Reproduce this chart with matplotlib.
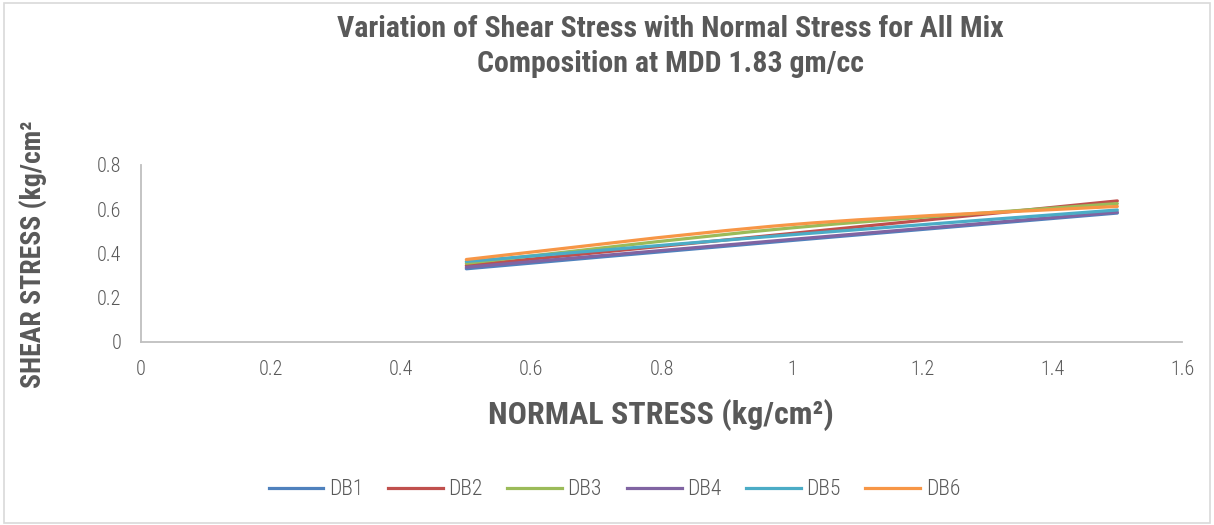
import matplotlib
matplotlib.use("Agg")
import matplotlib.pyplot as plt
from matplotlib.path import Path
from matplotlib.patches import PathPatch, Rectangle
from matplotlib.lines import Line2D

plt.rcParams['font.family'] = ['Roboto Condensed', 'Liberation Sans Narrow', 'Roboto', 'DejaVu Sans']

# datos
normal_stress = [0.5, 1.0, 1.5]
series_names = ['DB1', 'DB2', 'DB3', 'DB4', 'DB5', 'DB6']
db1 = [0.330, 0.458, 0.582]
db2 = [0.345, 0.490, 0.637]
db3 = [0.355, 0.515, 0.625]
db4 = [0.337, 0.463, 0.586]
db5 = [0.363, 0.484, 0.596]
db6 = [0.372, 0.530, 0.612]
series_values = [db1, db2, db3, db4, db5, db6]
colors = ['#4F81BD', '#C0504D', '#9BBB59', '#8064A2', '#4BACC6', '#F79646']

x_ticks = [0, 0.2, 0.4, 0.6, 0.8, 1, 1.2, 1.4, 1.6]
x_tick_labels = ['0', '0.2', '0.4', '0.6', '0.8', '1', '1.2', '1.4', '1.6']
y_ticks = [0, 0.2, 0.4, 0.6, 0.8]
y_tick_labels = ['0', '0.2', '0.4', '0.6', '0.8']

text_color = '#595959'
axis_color = '#BFBFBF'


def smooth_path(xs, ys, t=1 / 6):
    """Curva suavizada estilo Excel (Bezier cubica por los puntos)"""
    pts = list(zip(xs, ys))
    verts = [pts[0]]
    codes = [Path.MOVETO]
    n = len(pts)
    for i in range(n - 1):
        p0 = pts[i - 1] if i > 0 else pts[i]
        p1 = pts[i]
        p2 = pts[i + 1]
        p3 = pts[i + 2] if i + 2 < n else pts[i + 1]
        c1 = (p1[0] + (p2[0] - p0[0]) * t, p1[1] + (p2[1] - p0[1]) * t)
        c2 = (p2[0] - (p3[0] - p1[0]) * t, p2[1] - (p3[1] - p1[1]) * t)
        verts += [c1, c2, p2]
        codes += [Path.CURVE4] * 3
    return Path(verts, codes)


fig = plt.figure(figsize=(12.14, 5.25), dpi=100)
ax = fig.add_axes([0.116, 0.349, 0.858, 0.337])

handles = []
for name, vals, col in zip(series_names, series_values, colors):
    patch = PathPatch(smooth_path(normal_stress, vals), facecolor='none',
                      edgecolor=col, lw=2.3, capstyle='round', zorder=3)
    ax.add_patch(patch)
    handles.append(Line2D([], [], color=col, lw=2.3, label=name))

ax.set_xlim(0, 1.6)
ax.set_ylim(0, 0.8)
ax.set_xticks(x_ticks)
ax.set_xticklabels(x_tick_labels)
ax.set_yticks(y_ticks)
ax.set_yticklabels(y_tick_labels)
ax.tick_params(length=0, labelsize=14.5, colors=text_color, pad=13)
ax.tick_params(axis='y', pad=14)
for lbl in ax.get_xticklabels() + ax.get_yticklabels():
    lbl.set_fontweight('light')

for s in ['top', 'right']:
    ax.spines[s].set_visible(False)
for s in ['left', 'bottom']:
    ax.spines[s].set_color(axis_color)
    ax.spines[s].set_linewidth(1.3)

fig.text(0.552, 0.945, 'Variation of Shear Stress with Normal Stress for All Mix',
         ha='center', va='center', fontsize=21.5, fontweight='bold', color=text_color)
fig.text(0.552, 0.879, 'Composition at MDD 1.83 gm/cc',
         ha='center', va='center', fontsize=21.5, fontweight='bold', color=text_color)

fig.text(0.544, 0.209, 'NORMAL STRESS (kg/cm²)', ha='center', va='center',
         fontsize=23, fontweight='bold', color=text_color)
fig.text(0.027, 0.515, 'SHEAR STRESS (kg/cm²', ha='center', va='center', rotation=90,
         fontsize=20, fontweight='bold', color=text_color)

leg = fig.legend(handles=handles, loc='center', bbox_to_anchor=(0.506, 0.067), ncol=6,
                 frameon=False, handlelength=2.55, columnspacing=1.15,
                 handletextpad=0.25, prop={'size': 15.5, 'weight': 'light'})
for t in leg.get_texts():
    t.set_color(text_color)

fig.patches.append(Rectangle((0.003, 0.004), 0.994, 0.99, transform=fig.transFigure,
                             fill=False, edgecolor='#D9D9D9', lw=1.2))

fig.savefig('out.png', dpi=100)
